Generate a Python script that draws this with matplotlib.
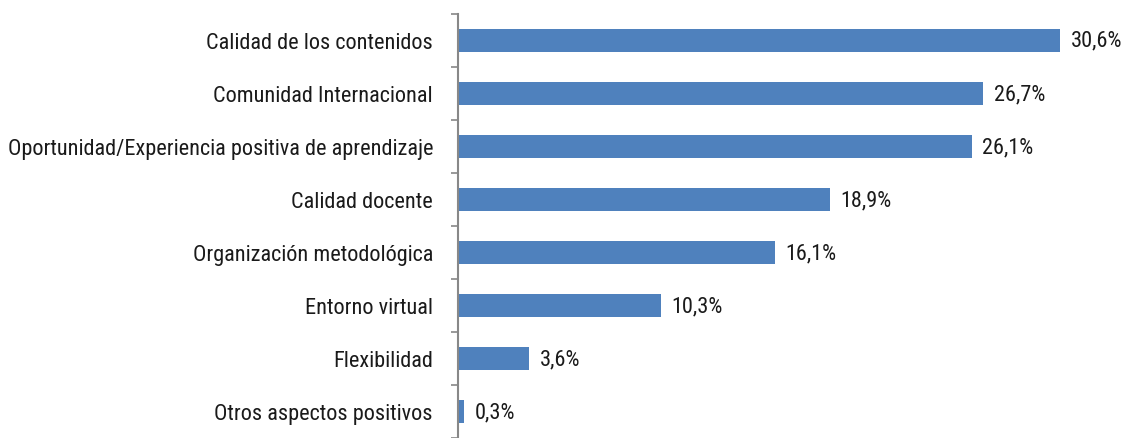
import numpy as np
import matplotlib.pyplot as plt
from matplotlib import font_manager

names = {f.name for f in font_manager.fontManager.ttflist}
fam = next(n for n in ['Liberation Sans Narrow', 'Arial Narrow', 'Roboto Condensed',
                       'Archivo Narrow', 'PT Sans Narrow', 'Liberation Sans'] if n in names)
plt.rcParams['font.family'] = [fam, 'DejaVu Sans']

categories = ['Calidad de los contenidos', 'Comunidad Internacional',
              'Oportunidad/Experiencia positiva de aprendizaje', 'Calidad docente',
              'Organización metodológica', 'Entorno virtual', 'Flexibilidad',
              'Otros aspectos positivos']
values = [30.6, 26.7, 26.1, 18.9, 16.1, 10.3, 3.6, 0.3]

fig = plt.figure(figsize=(11.27, 4.39), dpi=100)
ax = fig.add_axes([458/1127, 0.0, 1 - 458/1127, 0.966])
y = np.arange(len(categories))
ax.barh(y, values, height=0.42, color='#4F81BD')
for yi, v in zip(y, values):
    ax.text(v + 0.55, yi, f'{v:.1f}%'.replace('.', ','), va='center', ha='left',
            fontsize=16, color='#1a1a1a')

ax.set_xlim(0, 34)
ax.set_ylim(len(categories) - 0.5, -0.5)
ax.set_yticks(y)
ax.set_yticklabels(categories, fontsize=16, color='#1a1a1a')
ax.tick_params(axis='y', which='major', length=0, pad=18)
ax.set_yticks(np.arange(len(categories) + 1) - 0.5, minor=True)
ax.tick_params(axis='y', which='minor', length=5, width=1.2, color='#888888')
ax.set_xticks([])
for s in ['top', 'right', 'bottom']:
    ax.spines[s].set_visible(False)
ax.spines['left'].set_color('#888888')
ax.spines['left'].set_linewidth(1.5)

fig.savefig('out.png', dpi=100)
